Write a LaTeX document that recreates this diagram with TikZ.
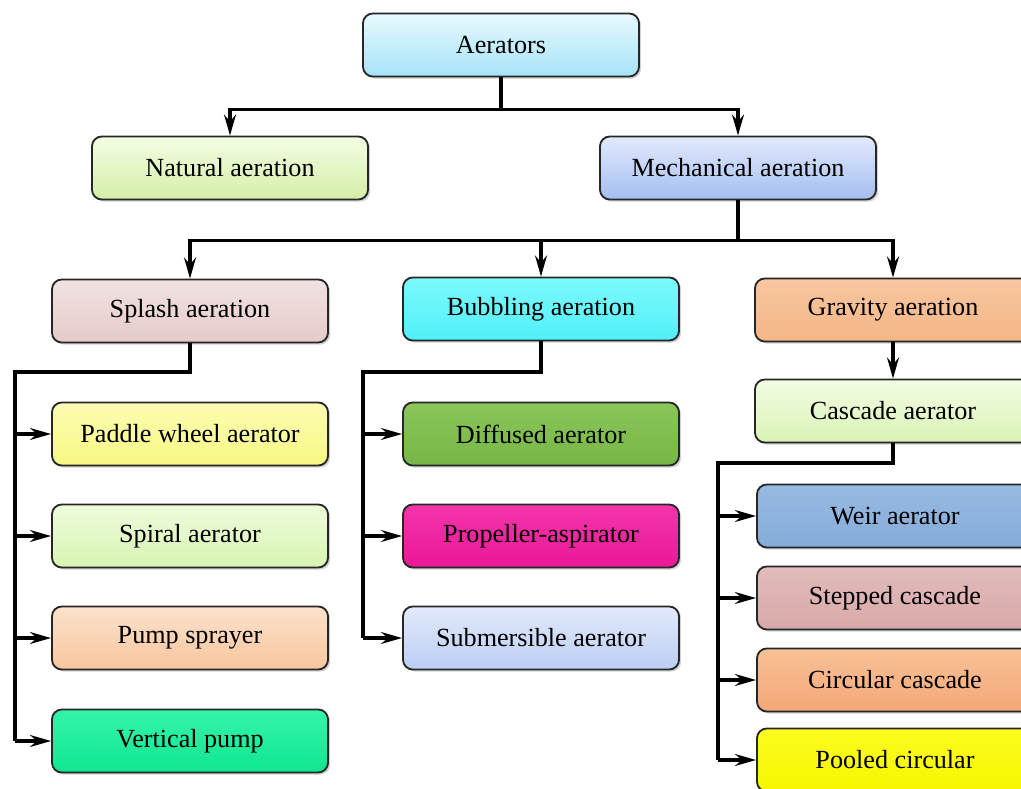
\documentclass[tikz,border=0pt]{standalone}
\usepackage{fontspec}
\setmainfont{Liberation Serif}
\usetikzlibrary{arrows.meta,shadows}
\definecolor{aerT}{HTML}{E8FAFF}\definecolor{aerB}{HTML}{A6E2F8}
\definecolor{natT}{HTML}{F4FDE4}\definecolor{natB}{HTML}{D4EFA8}
\definecolor{mechT}{HTML}{E2EAFC}\definecolor{mechB}{HTML}{A4BEF0}
\definecolor{splashT}{HTML}{F2E2E2}\definecolor{splashB}{HTML}{E6CACA}
\definecolor{bubbT}{HTML}{7CFAFC}\definecolor{bubbB}{HTML}{50F0F8}
\definecolor{gravT}{HTML}{F8C6A0}\definecolor{gravB}{HTML}{F4B686}
\definecolor{cascT}{HTML}{F2FCE4}\definecolor{cascB}{HTML}{DAF3B4}
\definecolor{paddleT}{HTML}{FCFCB4}\definecolor{paddleB}{HTML}{F8F884}
\definecolor{spiralT}{HTML}{EEFCDC}\definecolor{spiralB}{HTML}{D8F4B2}
\definecolor{pumpT}{HTML}{FCE2CC}\definecolor{pumpB}{HTML}{F8C69E}
\definecolor{vertT}{HTML}{34F4AA}\definecolor{vertB}{HTML}{10E690}
\definecolor{diffT}{HTML}{8AC65A}\definecolor{diffB}{HTML}{76B646}
\definecolor{propT}{HTML}{F434AA}\definecolor{propB}{HTML}{EA1896}
\definecolor{submT}{HTML}{E2EAFA}\definecolor{submB}{HTML}{BCCEF4}
\definecolor{weirT}{HTML}{98BAE2}\definecolor{weirB}{HTML}{84ACD8}
\definecolor{stepcT}{HTML}{E2BCBC}\definecolor{stepcB}{HTML}{D8A8A8}
\definecolor{circcT}{HTML}{F8C096}\definecolor{circcB}{HTML}{F4A878}
\definecolor{poolT}{HTML}{FCFC20}\definecolor{poolB}{HTML}{F6F600}
\begin{document}
\begin{tikzpicture}[x=0.025cm,y=-0.025cm,
  box/.style={draw=black!85, line width=1.3pt, rounded corners=7pt,
    minimum width=6.9cm, minimum height=1.575cm, inner sep=0pt,
    font=\fontsize{18.6}{22}\selectfont,
    drop shadow={shadow xshift=1.5pt, shadow yshift=-1.5pt, opacity=0.35}},
  grad/.style={top color=#1T, bottom color=#1B},
  line/.style={line width=2.2pt},
  arr/.style={line width=2.2pt, -{Stealth[length=15pt,width=8.5pt,inset=5pt]}}]
  \useasboundingbox (0,0) rectangle (1021,789);
  \clip (0,0) rectangle (1021,789);
  \node[box, grad=aer] (aer) at (501,45) {Aerators};
  \node[box, grad=nat] (nat) at (230,168) {Natural aeration};
  \node[box, grad=mech] (mech) at (738,168) {Mechanical aeration};
  \node[box, grad=splash] (splash) at (190,311) {Splash aeration};
  \node[box, grad=bubb] (bubb) at (541,309) {Bubbling aeration};
  \node[box, grad=grav] (grav) at (893,310) {Gravity aeration};
  \node[box, grad=casc] (casc) at (893,411) {Cascade aerator};
  \node[box, grad=paddle] (paddle) at (190,434) {Paddle wheel aerator};
  \node[box, grad=spiral] (spiral) at (190,536) {Spiral aerator};
  \node[box, grad=pump] (pump) at (190,638) {Pump sprayer};
  \node[box, grad=vert] (vert) at (190,741) {Vertical pump};
  \node[box, grad=diff] (diff) at (541,434) {Diffused aerator};
  \node[box, grad=prop] (prop) at (541,536) {Propeller-aspirator};
  \node[box, grad=subm] (subm) at (541,638) {Submersible aerator};
  \node[box, grad=weir] (weir) at (895,516) {Weir aerator};
  \node[box, grad=stepc] (stepc) at (895,598) {Stepped cascade};
  \node[box, grad=circc] (circc) at (895,680) {Circular cascade};
  \node[box, grad=pool] (pool) at (895,760) {Pooled circular};

  \draw[arr] (aer.south) -- ++(0,32) -| (nat.north);
  \draw[arr] (aer.south) -- ++(0,32) -| (mech.north);
  \draw[arr] (mech.south) -- ++(0,40) -| (splash.north);
  \draw[arr] (mech.south) -- ++(0,40) -| (bubb.north);
  \draw[arr] (mech.south) -- ++(0,40) -| (grav.north);
  \draw[arr] (grav) -- (casc);

  \coordinate (sp) at (15,372);
  \coordinate (bb) at (363,372);
  \coordinate (cc) at (718,463);
  \draw[line] (splash.south) |- (sp) -- (sp |- vert.west);
  \draw[line] (bubb.south) |- (bb) -- (bb |- subm.west);
  \draw[line] (casc.south) |- (cc) -- (cc |- pool.west);
  \foreach \n in {paddle,spiral,pump,vert}
    \draw[arr] (sp |- \n.west) -- (\n.west);
  \foreach \n in {diff,prop,subm}
    \draw[arr] (bb |- \n.west) -- (\n.west);
  \foreach \n in {weir,stepc,circc,pool}
    \draw[arr] (cc |- \n.west) -- (\n.west);
\end{tikzpicture}
\end{document}
